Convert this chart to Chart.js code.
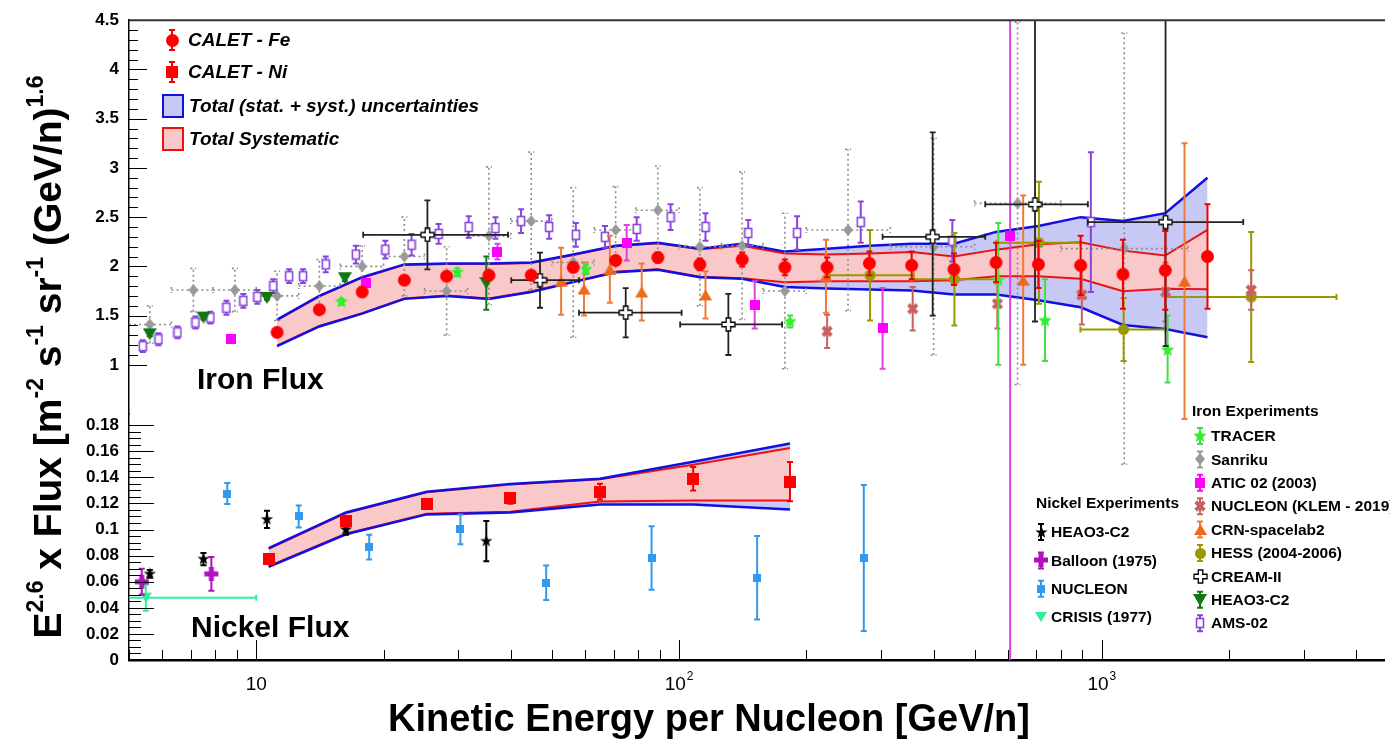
<!DOCTYPE html>
<html>
<head>
<meta charset="utf-8">
<title>CALET iron and nickel flux</title>
<script src="https://cdn.jsdelivr.net/npm/chart.js@4.4.1/dist/chart.umd.min.js"></script>
<style>
  html, body { margin: 0; padding: 0; background: #fff; }
  #wrap { width: 1390px; height: 740px; }
</style>
</head>
<body>
<div id="wrap"><canvas id="fluxChart" width="1390" height="740"></canvas></div>
<script>
// ---- values (E in GeV/n, flux x E^2.6) ----
// CALET iron
const calFeE    = [11.2, 14.1, 17.8, 22.4, 28.2, 35.5, 44.7, 56.2, 70.8, 89.1, 112, 141, 178, 224, 282, 355, 447, 562, 708, 891, 1122, 1413, 1778];
const calFeFlux = [1.33, 1.56, 1.74, 1.86, 1.90, 1.91, 1.91, 1.99, 2.06, 2.09, 2.02, 2.07, 1.99, 1.99, 2.03, 2.01, 1.97, 2.04, 2.02, 2.01, 1.92, 1.96, 2.10];
const calFeErr  = [0.02, 0.02, 0.02, 0.02, 0.03, 0.03, 0.03, 0.04, 0.04, 0.05, 0.06, 0.07, 0.08, 0.10, 0.12, 0.14, 0.16, 0.20, 0.24, 0.30, 0.35, 0.40, 0.53];
const feTotHi = [1.46, 1.70, 1.89, 2.02, 2.03, 2.03, 2.04, 2.12, 2.21, 2.24, 2.18, 2.23, 2.15, 2.18, 2.21, 2.23, 2.23, 2.35, 2.41, 2.50, 2.46, 2.54, 2.90];
const feTotLo = [1.19, 1.39, 1.52, 1.67, 1.70, 1.67, 1.74, 1.84, 1.94, 1.965, 1.89, 1.875, 1.79, 1.775, 1.765, 1.755, 1.715, 1.715, 1.655, 1.585, 1.405, 1.365, 1.28];
const feSysHi = [1.455, 1.695, 1.885, 2.015, 2.025, 2.025, 2.035, 2.115, 2.205, 2.235, 2.175, 2.21, 2.13, 2.12, 2.13, 2.145, 2.10, 2.17, 2.225, 2.245, 2.16, 2.11, 2.37];
const feSysLo = [1.195, 1.395, 1.525, 1.675, 1.705, 1.675, 1.745, 1.845, 1.945, 1.97, 1.895, 1.88, 1.84, 1.85, 1.85, 1.85, 1.858, 1.90, 1.90, 1.875, 1.747, 1.774, 1.767];

// CALET nickel
const calNiE    = [10.7, 16.3, 25.3, 39.9, 65.0, 108, 183];
const calNiFlux = [0.0775, 0.1063, 0.1192, 0.1238, 0.1291, 0.139, 0.1367];
const calNiErr  = [0.003, 0.004, 0.003, 0.004, 0.006, 0.009, 0.015];
const niTotHi = [0.0858, 0.1131, 0.129, 0.135, 0.139, 0.152, 0.166];
const niTotLo = [0.0714, 0.0964, 0.1116, 0.1131, 0.1192, 0.1192, 0.1154];
const niSysHi = [0.0853, 0.1126, 0.1285, 0.1345, 0.1385, 0.1496, 0.1625];
const niSysLo = [0.0719, 0.0969, 0.1121, 0.1136, 0.1215, 0.1222, 0.1222];

// other iron measurements
const traE = [15.9, 29.9, 60.2, 183, 569, 734, 1431];
const traFlux = [1.64, 1.94, 1.97, 1.44, 1.86, 1.45, 1.15];
const traErrDn = [0.03, 0.04, 0.05, 0.06, 0.86, 0.41, 0.33];
const traErrUp = [0.03, 0.04, 0.05, 0.06, 0.58, 0.42, 0.35];

const sanE = [5.6, 7.1, 8.9, 11.2, 14.1, 17.8, 22.4, 28.2, 35.5, 44.7, 56.2, 70.8, 89.1, 112, 141, 178, 251, 400, 632, 1130];
const sanFlux = [1.41, 1.76, 1.76, 1.70, 1.80, 2.00, 2.10, 1.75, 2.31, 2.46, 2.04, 2.37, 2.57, 2.20, 2.21, 1.75, 2.37, 2.20, 2.64, 2.18];
const sanErr = [0.19, 0.22, 0.22, 0.25, 0.27, 0.21, 0.40, 0.45, 0.70, 0.70, 0.76, 0.44, 0.45, 0.60, 0.75, 0.79, 0.82, 1.10, 1.84, 2.19];
const sanELo = [5, 6.3, 7.9, 10, 12.6, 15.8, 20, 25, 31.6, 40, 50, 63, 79, 100, 126, 158, 200, 316, 500, 800];
const sanEHi = [6.3, 7.9, 10, 12.6, 15.8, 20, 25, 31.6, 40, 50, 63, 79, 100, 126, 158, 200, 316, 500, 800, 1600];

const aticE = [8.7, 18.2, 37.2, 75.2, 151, 303, 607];
const aticFlux = [1.26, 1.83, 2.15, 2.24, 1.61, 1.37, 2.31];
const aticErr = [0.02, 0.03, 0.08, 0.18, 0.24, 0.41, 4.5];

const klemE = [224, 357, 566, 897, 1415, 2256];
const klemFlux = [1.34, 1.57, 1.62, 1.71, 1.74, 1.76];
const klemErr = [0.17, 0.22, 0.25, 0.30, 0.30, 0.20];

const crnE = [52.6, 59.6, 68.6, 81.6, 115.5, 222.6, 651.6, 1569];
const crnFlux = [1.85, 1.77, 1.97, 1.74, 1.71, 1.90, 1.86, 1.85];
const crnErr = [0.34, 0.27, 0.34, 0.29, 0.24, 0.37, 0.86, 1.40];

const hessE = [283, 448, 710, 1126, 2256];
const hessFlux = [1.91, 1.87, 2.24, 1.36, 1.69];
const hessErr = [0.46, 0.47, 0.62, 0.32, 0.66];
const hessELo = [227, 355, 563, 890, 1413];
const hessEHi = [359, 563, 890, 1413, 3590];

const creamE = [25.4, 46.9, 74.8, 130.8, 398, 695, 1415];
const creamFlux = [2.32, 1.86, 1.53, 1.41, 2.30, 2.63, 2.45];
const creamErrDn = [0.35, 0.28, 0.25, 0.31, 0.80, 1.19, 1.26];
const creamErrUp = [0.35, 0.28, 0.25, 0.31, 1.06, 2.50, 2.50];
const creamELo = [17.9, 40.1, 58, 100.6, 303, 530, 927];
const creamEHi = [39.4, 58, 101.4, 175.3, 530, 927, 2160];

const heaoFeE = [5.6, 7.5, 10.6, 16.2, 35.0];
const heaoFeFlux = [1.31, 1.48, 1.68, 1.88, 1.83];
const heaoFeErr = [0.02, 0.02, 0.02, 0.03, 0.27];

const amsE = [5.39, 5.87, 6.51, 7.18, 7.79, 8.50, 9.32, 10.06, 10.97, 11.96, 12.9, 14.6, 17.2, 20.2, 23.3, 27.0, 31.8, 36.8, 42.3, 49.3, 57.0, 66.8, 79.4, 95.5, 115.5, 145.8, 190.2, 269, 443, 942];
const amsFlux = [1.19, 1.26, 1.33, 1.43, 1.48, 1.58, 1.65, 1.69, 1.80, 1.90, 1.90, 2.02, 2.12, 2.17, 2.22, 2.33, 2.40, 2.39, 2.46, 2.40, 2.32, 2.30, 2.38, 2.50, 2.40, 2.34, 2.34, 2.45, 2.26, 2.45];
const amsErr = [0.06, 0.06, 0.06, 0.06, 0.06, 0.07, 0.07, 0.07, 0.07, 0.07, 0.07, 0.08, 0.09, 0.09, 0.11, 0.10, 0.11, 0.11, 0.12, 0.12, 0.12, 0.11, 0.12, 0.13, 0.14, 0.13, 0.17, 0.21, 0.21, 0.71];

// other nickel measurements
const heaoNiE = [5.6, 7.5, 10.6, 16.3, 35.0];
const heaoNiFlux = [0.066, 0.0774, 0.1078, 0.100, 0.0911];
const heaoNiErr = [0.003, 0.0047, 0.0066, 0.004, 0.0155];

const balE = [5.36, 7.83];
const balFlux = [0.060, 0.066];
const balErr = [0.010, 0.013];

const nucNiE = [8.54, 12.6, 18.5, 30.4, 48.5, 86.1, 153, 273.5];
const nucNiFlux = [0.1276, 0.110, 0.0866, 0.1002, 0.0592, 0.0782, 0.063, 0.0782];
const nucNiErr = [0.008, 0.0085, 0.0095, 0.0114, 0.0132, 0.0243, 0.032, 0.056];

const crisE = [5.48];
const crisFlux = [0.0478];
const crisErr = [0.010];
const crisELo = [4.5];
const crisEHi = [10];

// axis tick labels
const xTickVals = [10, 100, 1000];
const xTickExp = ['', '2', '3'];

const FONT = '"Liberation Sans", Arial, Helvetica, sans-serif';

// ---- marker images ----
function mk(w, h, draw) {
  const c = document.createElement('canvas');
  c.width = w; c.height = h;
  draw(c.getContext('2d'), w / 2, h / 2);
  return c;
}
const circle = (col, r) => mk(2 * r + 2, 2 * r + 2, (g, cx, cy) => {
  g.fillStyle = col; g.beginPath(); g.arc(cx, cy, r, 0, 2 * Math.PI); g.fill();
});
const square = (col, s) => mk(s, s, g => { g.fillStyle = col; g.fillRect(0, 0, s, s); });
const openSquare = (col, w, h) => mk(w + 2, h + 2, g => {
  g.fillStyle = '#fff'; g.fillRect(1, 1, w, h);
  g.strokeStyle = col; g.lineWidth = 1.6; g.strokeRect(1.5, 1.5, w - 1, h - 1);
});
const diamond = (col, w, h) => mk(w, h, (g, cx, cy) => {
  g.fillStyle = col; g.beginPath();
  g.moveTo(cx, 0); g.lineTo(w, cy); g.lineTo(cx, h); g.lineTo(0, cy); g.closePath(); g.fill();
});
const triangle = (col, s, down) => mk(s, s, g => {
  g.fillStyle = col; g.beginPath();
  if (down) { g.moveTo(0, 1); g.lineTo(s, 1); g.lineTo(s / 2, s - 1); }
  else { g.moveTo(0, s - 1); g.lineTo(s, s - 1); g.lineTo(s / 2, 1); }
  g.closePath(); g.fill();
});
const star = (col, ro, ri) => mk(2 * ro + 2, 2 * ro + 2, (g, cx, cy) => {
  g.fillStyle = col; g.beginPath();
  for (let i = 0; i < 10; i++) {
    const r = i % 2 ? ri : ro, a = -Math.PI / 2 + i * Math.PI / 5;
    g.lineTo(cx + r * Math.cos(a), cy + r * Math.sin(a));
  }
  g.closePath(); g.fill();
});
function crossPath(g, cx, cy, s, t) {
  const a = s / 2, b = t / 2;
  g.beginPath();
  g.moveTo(cx - b, cy - a); g.lineTo(cx + b, cy - a); g.lineTo(cx + b, cy - b);
  g.lineTo(cx + a, cy - b); g.lineTo(cx + a, cy + b); g.lineTo(cx + b, cy + b);
  g.lineTo(cx + b, cy + a); g.lineTo(cx - b, cy + a); g.lineTo(cx - b, cy + b);
  g.lineTo(cx - a, cy + b); g.lineTo(cx - a, cy - b); g.lineTo(cx - b, cy - b);
  g.closePath();
}
const plus = (col, s, t) => mk(s + 2, s + 2, (g, cx, cy) => { crossPath(g, cx, cy, s, t); g.fillStyle = col; g.fill(); });
const openCross = (col, s, t) => mk(s + 2, s + 2, (g, cx, cy) => {
  crossPath(g, cx, cy, s, t); g.fillStyle = '#fff'; g.fill();
  g.strokeStyle = col; g.lineWidth = 1.3; g.stroke();
});
const xMark = (col, s, t) => mk(s + 4, s + 4, (g, cx, cy) => {
  g.translate(cx, cy); g.rotate(Math.PI / 4); crossPath(g, 0, 0, s, t); g.fillStyle = col; g.fill();
});

const M = {
  calFe: circle('#ff0000', 6.5),
  calNi: square('#ff0000', 12),
  tracer: star('#33ee33', 7, 3.2),
  sanriku: diamond('#999999', 10, 12),
  atic: square('#ff00ff', 10),
  klem: xMark('#c86060', 12, 4),
  crn: triangle('#ee6a1a', 13, false),
  hess: circle('#999900', 5.5),
  cream: openCross('#000000', 13, 4.5),
  heaoFe: triangle('#117711', 14, true),
  ams: openSquare('#8844dd', 8, 10),
  heaoNi: star('#000000', 6.5, 2.6),
  balloon: plus('#b010c0', 14, 5),
  nucNi: square('#3399ee', 8),
  crisis: triangle('#33ee99', 12, true)
};

// ---- dataset builders ----
function points(E, F, dn, up, lo, hi) {
  return E.map((e, i) => {
    const p = { x: e, y: F[i] };
    if (dn) { p.yLo = F[i] - dn[i]; p.yHi = F[i] + (up || dn)[i]; }
    if (lo) { p.xLo = lo[i]; p.xHi = hi[i]; }
    return p;
  });
}
function band(E, vals, axis, opts) {
  return Object.assign({
    data: E.map((e, i) => ({ x: e, y: vals[i] })),
    yAxisID: axis, showLine: true, pointRadius: 0, tension: 0, fill: false,
    borderWidth: 0, borderColor: 'rgba(0,0,0,0)'
  }, opts);
}
function marks(label, data, axis, marker, errColor, order, extra) {
  return Object.assign({
    label: label, data: data, yAxisID: axis, pointStyle: marker, pointRadius: 5,
    pointHoverRadius: 5, showLine: false, errColor: errColor, errWidth: 2, order: order
  }, extra || {});
}

const BLUE = '#1010e0', RED = '#ee1111', BLUE_FILL = '#c8c8f4', RED_FILL = '#f9c9c9';

const datasets = [
  band(calFeE, feTotHi, 'yFe', { fill: '+1', backgroundColor: BLUE_FILL, order: 60 }),
  band(calFeE, feTotLo, 'yFe', { order: 59 }),
  band(calFeE, feSysHi, 'yFe', { fill: '+1', backgroundColor: RED_FILL, borderColor: RED, borderWidth: 2, order: 58 }),
  band(calFeE, feSysLo, 'yFe', { borderColor: RED, borderWidth: 2, order: 57 }),
  band(calFeE, feTotHi, 'yFe', { borderColor: BLUE, borderWidth: 2.5, order: 56 }),
  band(calFeE, feTotLo, 'yFe', { borderColor: BLUE, borderWidth: 2.5, order: 55 }),
  band(calNiE, niTotHi, 'yNi', { fill: '+1', backgroundColor: BLUE_FILL, order: 54 }),
  band(calNiE, niTotLo, 'yNi', { order: 53 }),
  band(calNiE, niSysHi, 'yNi', { fill: '+1', backgroundColor: RED_FILL, borderColor: RED, borderWidth: 2, order: 52 }),
  band(calNiE, niSysLo, 'yNi', { borderColor: RED, borderWidth: 2, order: 51 }),
  band(calNiE, niTotHi, 'yNi', { borderColor: BLUE, borderWidth: 2.5, order: 50 }),
  band(calNiE, niTotLo, 'yNi', { borderColor: BLUE, borderWidth: 2.5, order: 49 }),

  marks('Sanriku', points(sanE, sanFlux, sanErr, null, sanELo, sanEHi), 'yFe', M.sanriku, '#8c8c8c', 20, { errWidth: 1.6, errDash: [2, 3] }),
  marks('AMS-02', points(amsE, amsFlux, amsErr), 'yFe', M.ams, '#8844dd', 19),
  marks('HESS (2004-2006)', points(hessE, hessFlux, hessErr, null, hessELo, hessEHi), 'yFe', M.hess, '#999900', 18),
  marks('CRN-spacelab2', points(crnE, crnFlux, crnErr), 'yFe', M.crn, '#ee7a3a', 17),
  marks('NUCLEON (KLEM - 2019)', points(klemE, klemFlux, klemErr), 'yFe', M.klem, '#c86060', 16),
  marks('ATIC 02 (2003)', points(aticE, aticFlux, aticErr), 'yFe', M.atic, '#e040e0', 15),
  marks('TRACER', points(traE, traFlux, traErrDn, traErrUp), 'yFe', M.tracer, '#44dd44', 14),
  marks('HEAO3-C2', points(heaoFeE, heaoFeFlux, heaoFeErr), 'yFe', M.heaoFe, '#117711', 13),
  marks('CREAM-II', points(creamE, creamFlux, creamErrDn, creamErrUp, creamELo, creamEHi), 'yFe', M.cream, '#222222', 12, { errWidth: 1.8 }),

  marks('NUCLEON', points(nucNiE, nucNiFlux, nucNiErr), 'yNi', M.nucNi, '#3399ee', 11),
  marks('CRISIS (1977)', points(crisE, crisFlux, crisErr, null, crisELo, crisEHi), 'yNi', M.crisis, '#33ee99', 10),
  marks('Balloon (1975)', points(balE, balFlux, balErr), 'yNi', M.balloon, '#b010c0', 9),
  marks('HEAO3-C2 Ni', points(heaoNiE, heaoNiFlux, heaoNiErr), 'yNi', M.heaoNi, '#000000', 8),

  marks('CALET - Ni', points(calNiE, calNiFlux, calNiErr), 'yNi', M.calNi, '#ee0000', 1),
  marks('CALET - Fe', points(calFeE, calFeFlux, calFeErr), 'yFe', M.calFe, '#ee0000', 0)
];

// ---- plugins ----
const errorBars = {
  id: 'errorBars',
  beforeDatasetDraw(chart, args) {
    const ds = chart.data.datasets[args.index];
    if (!ds.errColor) return;
    const xs = chart.scales[args.meta.xAxisID], ys = chart.scales[args.meta.yAxisID];
    const a = chart.chartArea, ctx = chart.ctx, cap = 3;
    ctx.save();
    ctx.beginPath();
    ctx.rect(a.left, a.top, a.right - a.left, a.bottom - a.top);
    ctx.clip();
    ctx.strokeStyle = ds.errColor;
    ctx.lineWidth = ds.errWidth;
    ctx.setLineDash(ds.errDash || []);
    ctx.beginPath();
    ds.data.forEach(p => {
      const px = xs.getPixelForValue(p.x), py = ys.getPixelForValue(p.y);
      if (p.yLo !== undefined) {
        const y1 = ys.getPixelForValue(p.yLo), y2 = ys.getPixelForValue(p.yHi);
        ctx.moveTo(px, y1); ctx.lineTo(px, y2);
        ctx.moveTo(px - cap, y1); ctx.lineTo(px + cap, y1);
        ctx.moveTo(px - cap, y2); ctx.lineTo(px + cap, y2);
      }
      if (p.xLo !== undefined) {
        const x1 = xs.getPixelForValue(p.xLo), x2 = xs.getPixelForValue(p.xHi);
        ctx.moveTo(x1, py); ctx.lineTo(x2, py);
        ctx.moveTo(x1, py - cap); ctx.lineTo(x1, py + cap);
        ctx.moveTo(x2, py - cap); ctx.lineTo(x2, py + cap);
      }
    });
    ctx.stroke();
    ctx.restore();
  }
};

function drawMarker(ctx, m, x, y) {
  ctx.drawImage(m, Math.round(x - m.width / 2), Math.round(y - m.height / 2));
}
function vbar(ctx, col, x, y, h) {
  ctx.strokeStyle = col; ctx.lineWidth = 2; ctx.setLineDash([]);
  ctx.beginPath();
  ctx.moveTo(x, y - h); ctx.lineTo(x, y + h);
  ctx.moveTo(x - 3, y - h); ctx.lineTo(x + 3, y - h);
  ctx.moveTo(x - 3, y + h); ctx.lineTo(x + 3, y + h);
  ctx.stroke();
}

const decorations = {
  id: 'decorations',
  afterDatasetsDraw(chart) {
    const ctx = chart.ctx;
    const { left, right, top, bottom } = chart.chartArea;
    const xs = chart.scales.x, fe = chart.scales.yFe, ni = chart.scales.yNi;
    ctx.save();
    ctx.strokeStyle = '#000'; ctx.lineWidth = 1;
    ctx.beginPath();
    for (let i = 10; i <= 45; i++) {
      const y = Math.round(fe.getPixelForValue(i / 10)) + 0.5;
      ctx.moveTo(left, y); ctx.lineTo(left + (i % 5 === 0 ? 18 : 9), y);
    }
    for (let i = 0; i <= 36; i++) {
      const y = Math.round(ni.getPixelForValue(i * 0.005)) + 0.5;
      ctx.moveTo(left, y); ctx.lineTo(left + (i % 4 === 0 ? 25 : 12), y);
    }
    for (let d = 0; d <= 3; d++) {
      for (let k = 1; k <= 9; k++) {
        const v = k * Math.pow(10, d);
        if (v < 5 || v > 4650) continue;
        const x = Math.round(xs.getPixelForValue(v)) + 0.5;
        ctx.moveTo(x, bottom); ctx.lineTo(x, bottom - (k === 1 ? 20 : 10));
      }
    }
    ctx.stroke();
    ctx.strokeStyle = '#333'; ctx.lineWidth = 2;
    ctx.beginPath(); ctx.moveTo(left, top); ctx.lineTo(right + 1, top); ctx.stroke();
    ctx.restore();
  },
  afterDraw(chart) {
    const ctx = chart.ctx;
    const xs = chart.scales.x;
    ctx.save();
    ctx.fillStyle = '#000';
    ctx.textBaseline = 'alphabetic';

    // x tick labels 10, 10^2, 10^3
    xTickVals.forEach((v, i) => {
      const px = xs.getPixelForValue(v);
      ctx.font = '19px ' + FONT;
      const w1 = ctx.measureText('10').width;
      ctx.font = '12px ' + FONT;
      const w2 = xTickExp[i] ? ctx.measureText(xTickExp[i]).width + 1 : 0;
      const x0 = px - (w1 + w2) / 2;
      ctx.textAlign = 'left';
      ctx.font = '19px ' + FONT;
      ctx.fillText('10', x0, 690);
      if (xTickExp[i]) { ctx.font = '12px ' + FONT; ctx.fillText(xTickExp[i], x0 + w1 + 1, 680); }
    });

    // axis titles
    ctx.font = 'bold 38px ' + FONT;
    ctx.textAlign = 'center';
    ctx.fillText('Kinetic Energy per Nucleon [GeV/n]', 709, 731);

    const S = 39;
    const parts = [['E', 0], ['2.6', 1], [' x Flux [m', 0], ['-2', 1], [' s', 0], ['-1', 1], [' sr', 0], ['-1', 1], [' (GeV/n)', 0], ['1.6', 1]];
    const fontOf = sup => 'bold ' + (sup ? Math.round(S * 0.6) : S) + 'px ' + FONT;
    let total = 0;
    parts.forEach(p => { ctx.font = fontOf(p[1]); total += ctx.measureText(p[0]).width; });
    ctx.save();
    ctx.translate(61, 357);
    ctx.rotate(-Math.PI / 2);
    ctx.textAlign = 'left';
    let cx = -total / 2;
    parts.forEach(p => {
      ctx.font = fontOf(p[1]);
      ctx.fillText(p[0], cx, p[1] ? -S * 0.45 : 0);
      cx += ctx.measureText(p[0]).width;
    });
    ctx.restore();

    // panel labels
    ctx.textAlign = 'left';
    ctx.font = 'bold 30px ' + FONT;
    ctx.fillText('Iron Flux', 197, 389);
    ctx.fillText('Nickel Flux', 191, 637);

    // CALET legend
    ctx.textBaseline = 'middle';
    vbar(ctx, '#ee0000', 172, 40, 10); drawMarker(ctx, M.calFe, 172, 40);
    vbar(ctx, '#ee0000', 172, 72, 10); drawMarker(ctx, M.calNi, 172, 72);
    ctx.lineWidth = 2;
    ctx.fillStyle = BLUE_FILL; ctx.fillRect(163, 95, 20, 22);
    ctx.strokeStyle = BLUE; ctx.strokeRect(163, 95, 20, 22);
    ctx.fillStyle = RED_FILL; ctx.fillRect(163, 128, 20, 22);
    ctx.strokeStyle = RED; ctx.strokeRect(163, 128, 20, 22);
    ctx.fillStyle = '#000';
    ctx.font = 'italic bold 19px ' + FONT;
    ctx.fillText('CALET - Fe', 188, 41);
    ctx.fillText('CALET - Ni', 188, 73);
    ctx.fillText('Total (stat. + syst.) uncertainties', 189, 107);
    ctx.fillText('Total Systematic', 189, 140);

    // experiment legends
    const ironItems = [
      ['TRACER', M.tracer, '#44dd44'], ['Sanriku', M.sanriku, '#999999'], ['ATIC 02 (2003)', M.atic, '#ff00ff'],
      ['NUCLEON (KLEM - 2019)', M.klem, '#c86060'], ['CRN-spacelab2', M.crn, '#ee7a3a'], ['HESS (2004-2006)', M.hess, '#999900'],
      ['CREAM-II', M.cream, null], ['HEAO3-C2', M.heaoFe, '#117711'], ['AMS-02', M.ams, '#8844dd']
    ];
    const nickelItems = [
      ['HEAO3-C2', M.heaoNi, '#000000'], ['Balloon (1975)', M.balloon, '#b010c0'],
      ['NUCLEON', M.nucNi, '#3399ee'], ['CRISIS (1977)', M.crisis, null]
    ];
    ctx.font = 'bold 15.5px ' + FONT;
    ctx.fillText('Iron Experiments', 1192, 412);
    ctx.fillText('Nickel Experiments', 1036, 504);
    ironItems.forEach((it, i) => {
      const y = 436 + i * 23.4;
      if (it[2]) vbar(ctx, it[2], 1200, y, 8);
      drawMarker(ctx, it[1], 1200, y);
      ctx.fillStyle = '#000';
      ctx.fillText(it[0], 1211, y + 1);
    });
    nickelItems.forEach((it, i) => {
      const y = 532 + i * 28.4;
      if (it[2]) vbar(ctx, it[2], 1041, y, 8);
      drawMarker(ctx, it[1], 1041, y);
      ctx.fillStyle = '#000';
      ctx.fillText(it[0], 1051, y + 1);
    });
    ctx.restore();
  }
};

// ---- chart ----
const tickFont = { family: FONT, size: 17, weight: 'bold' };
const fmt = v => (Math.abs(v) < 1e-9 ? '0' : String(Number(v.toFixed(3))));

const ctx1 = document.getElementById('fluxChart').getContext('2d');
const fluxChart = new Chart(ctx1, {
  type: 'scatter',
  data: { datasets: datasets },
  options: {
    responsive: false,
    animation: false,
    devicePixelRatio: 1,
    events: [],
    layout: { padding: { top: 14, right: 1, left: 0, bottom: 0 } },
    plugins: {
      legend: { display: false },
      tooltip: { enabled: false }
    },
    scales: {
      x: {
        type: 'logarithmic',
        min: 5,
        max: 4650,
        grid: { display: false, drawTicks: false },
        ticks: { display: false },
        border: { display: true, color: '#000', width: 2.5 },
        afterFit: s => { s.height = 80; }
      },
      yNi: {
        type: 'linear',
        position: 'left',
        stack: 'flux',
        stackWeight: 248.3,
        min: 0,
        max: 0.1885,
        bounds: 'data',
        grid: { display: false, drawTicks: false },
        border: { display: true, color: '#000', width: 1.5 },
        ticks: {
          stepSize: 0.02, includeBounds: false, autoSkip: false, padding: 10,
          font: tickFont, color: '#000',
          callback: v => (v > 0.181 ? '' : fmt(v))
        },
        afterFit: s => { s.width = 129; }
      },
      yFe: {
        type: 'linear',
        position: 'left',
        stack: 'flux',
        stackWeight: 397.7,
        min: 0.5,
        max: 4.5,
        bounds: 'data',
        grid: { display: false, drawTicks: false },
        border: { display: true, color: '#000', width: 1.5 },
        ticks: {
          stepSize: 0.5, includeBounds: false, autoSkip: false, padding: 10,
          font: tickFont, color: '#000',
          callback: v => (v < 0.99 ? '' : fmt(v))
        },
        afterFit: s => { s.width = 129; }
      }
    }
  },
  plugins: [errorBars, decorations]
});
</script>
</body>
</html>
